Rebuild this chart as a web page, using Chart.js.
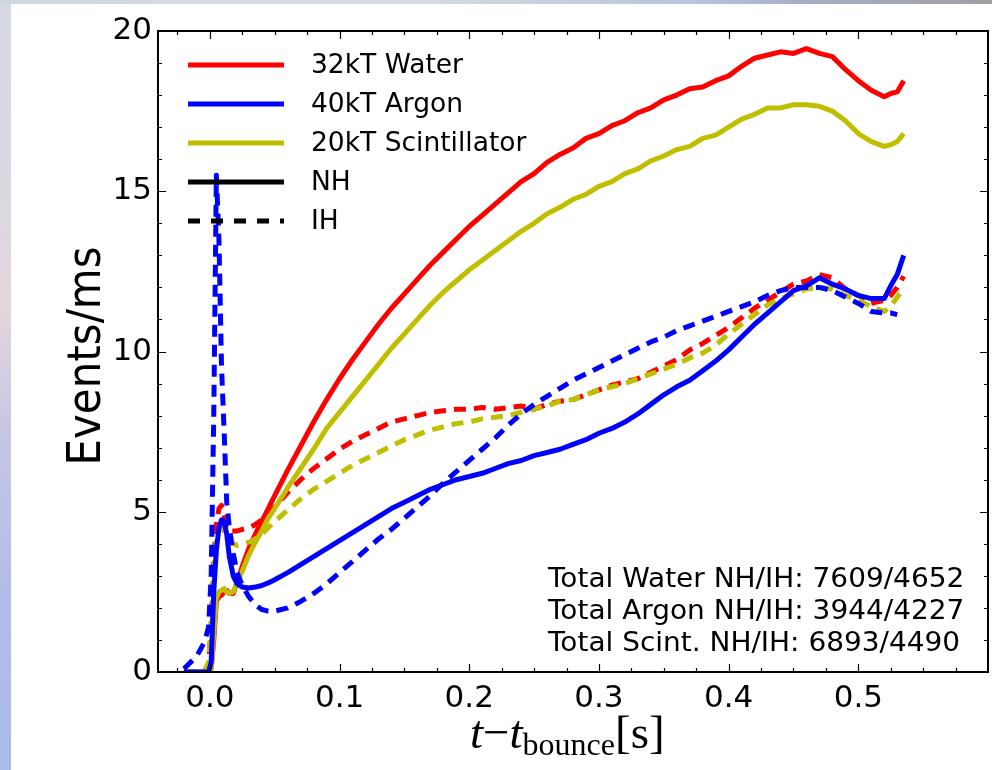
<!DOCTYPE html>
<html>
<head>
<meta charset="utf-8">
<script src="https://cdn.jsdelivr.net/npm/chart.js@4.4.0/dist/chart.umd.min.js"></script>
<style>
  html, body { margin: 0; padding: 0; background: #fff; }
  body { width: 992px; height: 770px; position: relative; overflow: hidden; }
  .edge-left {
    position: absolute; left: 0; top: 0; width: 11px; height: 770px;
    background: linear-gradient(180deg, #d4d9e4 0%, #dcd8e2 25%, #e4d6de 40%, #c8c8e4 55%, #b4bce8 75%, #aabbe8 100%);
  }
  .edge-top {
    position: absolute; left: 0; top: 0; width: 992px; height: 4px;
    background: linear-gradient(90deg, #d0d6e2 0%, #d8dce4 40%, #b8c4dc 70%, #a8b0c8 80%, #a0a0a4 100%);
  }
  #wrap { position: absolute; left: 0; top: 0; width: 992px; height: 770px; }
</style>
</head>
<body>
<div class="edge-left"></div>
<div class="edge-top"></div>
<div id="wrap"><canvas id="myChart" width="992" height="770"></canvas></div>
<script>
// time after bounce, seconds
const timeS = [
  -0.02, -0.01, -0.004, -0.001, 0.001, 0.003, 0.005, 0.007, 0.009, 0.011,
  0.013, 0.015, 0.018, 0.021, 0.025, 0.03, 0.035, 0.04, 0.045, 0.05, 0.06,
  0.07, 0.08, 0.09, 0.10,
  0.11, 0.12, 0.13, 0.14, 0.15,
  0.16, 0.17, 0.18, 0.19, 0.20,
  0.21, 0.22, 0.23, 0.24, 0.25,
  0.26, 0.27, 0.28, 0.29, 0.30,
  0.31, 0.32, 0.33, 0.34, 0.35,
  0.36, 0.37, 0.38, 0.39, 0.40,
  0.41, 0.42, 0.43, 0.44, 0.45,
  0.46, 0.47, 0.48, 0.49, 0.50,
  0.51, 0.52,
  0.525, 0.53, 0.535
]

// events / ms
const waterNH = [
  0, 0, 0, 0, 0.1, 1.0, 2.2, 2.35, 2.4, 2.5,
  2.55, 2.45, 2.45, 2.8, 3.3, 3.85, 4.3, 4.7, 5.1, 5.5, 6.3,
  7.05, 7.8, 8.5, 9.15,
  9.75, 10.3, 10.85, 11.35, 11.8,
  12.25, 12.7, 13.1, 13.5, 13.9,
  14.25, 14.6, 14.95, 15.3, 15.55,
  15.9, 16.15, 16.35, 16.65, 16.8,
  17.05, 17.2, 17.45, 17.6, 17.85,
  18.0, 18.2, 18.25, 18.45, 18.6,
  18.9, 19.15, 19.25, 19.35, 19.3,
  19.45, 19.3, 19.2, 18.8, 18.45,
  18.15, 17.95,
  18.05, 18.1, 18.45
]
const waterIH = [
  0, 0, 0, 0.2, 1.5, 3.5, 4.6, 5.1, 5.2, 4.9,
  4.5, 4.4, 4.4, 4.4, 4.45, 4.5, 4.6, 4.75, 4.95, 5.15, 5.6,
  6.0, 6.35, 6.65, 6.95,
  7.2, 7.4, 7.6, 7.8, 7.9,
  8.0, 8.1, 8.15, 8.2, 8.2,
  8.25, 8.2, 8.25, 8.3, 8.2,
  8.35, 8.45, 8.5, 8.65, 8.8,
  8.95, 9.05, 9.15, 9.35, 9.55,
  9.75, 10.05, 10.25, 10.5, 10.75,
  11.05, 11.35, 11.6, 11.85, 12.1,
  12.2, 12.4, 12.3, 11.95, 11.75,
  11.5, 11.6,
  11.75, 12.0, 12.35
]
const argonNH = [
  0, 0, 0, 0, 0.3, 2.5, 3.8, 4.5, 4.75, 4.7,
  4.3, 3.6, 3.0, 2.75, 2.65, 2.62, 2.65, 2.7, 2.78, 2.88, 3.1,
  3.35, 3.6, 3.85, 4.1,
  4.35, 4.6, 4.85, 5.1, 5.3,
  5.5, 5.7, 5.85, 6.0, 6.1,
  6.2, 6.35, 6.5, 6.6, 6.75,
  6.85, 6.95, 7.1, 7.25, 7.45,
  7.6, 7.8, 8.05, 8.35, 8.65,
  8.9, 9.1, 9.4, 9.7, 10.05,
  10.45, 10.85, 11.2, 11.55, 11.9,
  12.05, 12.3, 12.1, 11.95, 11.75,
  11.65, 11.65,
  12.05, 12.4, 13.0
]
const argonIH = [
  0.1, 0.5, 0.95, 1.4, 3.0, 8.0, 15.5, 13.5, 9.5, 7.5,
  5.3, 4.5, 3.7, 3.1, 2.7, 2.35, 2.1, 1.95, 1.9, 1.9, 2.0,
  2.2, 2.45, 2.75, 3.1,
  3.45, 3.8, 4.15, 4.45, 4.8,
  5.15, 5.5, 5.9, 6.25, 6.6,
  6.95, 7.3, 7.7, 8.05, 8.35,
  8.6, 8.85, 9.1, 9.3, 9.5,
  9.7, 9.9, 10.1, 10.3, 10.45,
  10.65, 10.8, 10.95, 11.1, 11.25,
  11.4, 11.55, 11.75, 11.9, 12.0,
  12.0, 12.0, 11.9, 11.7, 11.5,
  11.25, 11.2,
  11.2, 11.15, null
]
const scintNH = [
  0, 0, 0, 0, 0.1, 1.2, 2.3, 2.5, 2.55, 2.6,
  2.5, 2.45, 2.5, 2.8, 3.15, 3.65, 4.05, 4.4, 4.8, 5.1, 5.75,
  6.35, 6.95, 7.6, 8.1,
  8.6, 9.1, 9.6, 10.1, 10.55,
  11.0, 11.45, 11.85, 12.2, 12.55,
  12.85, 13.15, 13.45, 13.75, 14.0,
  14.3, 14.5, 14.75, 14.9, 15.15,
  15.3, 15.55, 15.7, 15.95, 16.1,
  16.3, 16.4, 16.65, 16.75, 17.0,
  17.25, 17.4, 17.6, 17.6, 17.7,
  17.7, 17.65, 17.5, 17.2, 16.8,
  16.55, 16.4,
  16.45, 16.55, 16.8
]
const scintIH = [
  0, 0, 0.05, 0.3, 1.5, 3.2, 4.1, 4.45, 4.5, 4.4,
  4.25, 4.1, 4.0, 3.95, 4.0, 4.05, 4.15, 4.3, 4.5, 4.7, 5.05,
  5.4, 5.7, 5.95, 6.2,
  6.45, 6.65, 6.85, 7.05, 7.25,
  7.4, 7.55, 7.65, 7.75, 7.8,
  7.9, 7.95, 8.0, 8.1, 8.2,
  8.3, 8.45, 8.5, 8.65, 8.8,
  8.9, 9.0, 9.15, 9.3, 9.45,
  9.6, 9.8, 9.95, 10.2, 10.55,
  10.85, 11.15, 11.45, 11.65, 11.8,
  11.95, 12.0, 11.95, 11.75, 11.6,
  11.4, 11.25,
  11.4, 11.7, 11.95
]

const xTicks = [0.0, 0.1, 0.2, 0.3, 0.4, 0.5]
const yTicks = [0, 5, 10, 15, 20]
const legendLabels = ['32kT Water', '40kT Argon', '20kT Scintillator', 'NH', 'IH']
const legendColors = ['#ff0000', '#0000ff', '#bfbf00', '#000000', '#000000']
const totalsText = [
  'Total Water NH/IH: 7609/4652',
  'Total Argon NH/IH: 3944/4227',
  'Total Scint. NH/IH: 6893/4490'
]

const RED = '#ff0000', BLUE = '#0000ff', YEL = '#bfbf00'
const DASH = [12, 8]

const toPoints = (arr) => timeS.map((t, i) => ({ x: t, y: arr[i] }))

const lineSet = (label, arr, color, dashed, order) => ({
  label,
  data: toPoints(arr),
  borderColor: color,
  borderWidth: 5,
  borderDash: dashed ? DASH : [],
  borderCapStyle: 'butt',
  borderJoinStyle: 'round',
  pointRadius: 0,
  tension: 0,
  spanGaps: false,
  order,
})

// matplotlib-like frame: inward ticks, spines, legend, texts
const framePlugin = {
  id: 'frame',
  afterDraw(chart) {
    const { ctx, chartArea: a, scales } = chart
    const xs = scales.x, ys = scales.y
    ctx.save()
    ctx.strokeStyle = '#000'
    ctx.lineWidth = 1.2
    ctx.beginPath()
    for (let k = -1; k <= 23; k++) {
      const v = k * 0.025
      const px = Math.round(xs.getPixelForValue(v)) + 0.5
      const len = k % 4 === 0 ? 8 : 4
      ctx.moveTo(px, a.bottom); ctx.lineTo(px, a.bottom - len)
      ctx.moveTo(px, a.top); ctx.lineTo(px, a.top + len)
    }
    for (let v = 1; v < 20; v++) {
      const py = Math.round(ys.getPixelForValue(v)) + 0.5
      const len = v % 5 === 0 ? 8 : 4
      ctx.moveTo(a.left, py); ctx.lineTo(a.left + len, py)
      ctx.moveTo(a.right, py); ctx.lineTo(a.right - len, py)
    }
    ctx.stroke()

    ctx.lineWidth = 2
    ctx.strokeRect(a.left, a.top, a.right - a.left, a.bottom - a.top)

    // legend
    ctx.font = '26.5px "DejaVu Sans"'
    ctx.textBaseline = 'middle'
    ctx.textAlign = 'left'
    legendLabels.forEach((lab, i) => {
      const y = a.top + 34 + i * 39
      ctx.strokeStyle = legendColors[i]
      ctx.lineWidth = 5
      ctx.setLineDash(i === 4 ? [12, 11] : [])
      ctx.beginPath()
      ctx.moveTo(a.left + 30, y)
      ctx.lineTo(a.left + 126, y)
      ctx.stroke()
      ctx.setLineDash([])
      ctx.fillStyle = '#000'
      ctx.fillText(lab, a.left + 153, y + 1)
    })

    // totals (slightly wide, like the reference)
    ctx.textBaseline = 'alphabetic'
    totalsText.forEach((s, i) => {
      ctx.save()
      ctx.translate(548, 587 + i * 32)
      ctx.scale(1.075, 1)
      ctx.font = '26px "DejaVu Sans"'
      ctx.fillText(s, 0, 0)
      ctx.restore()
    })

    // y title
    ctx.save()
    ctx.translate(100, 356)
    ctx.rotate(-Math.PI / 2)
    ctx.scale(1, 1.08)
    ctx.textAlign = 'center'
    ctx.font = '42px "DejaVu Sans"'
    ctx.fillText('Events/ms', 0, 0)
    ctx.restore()

    // x title: t - t_bounce [s]
    const base = 748
    const parts = [
      { s: 't', f: 'italic 47px "Liberation Serif"', dy: 0 },
      { s: '\u2212', f: '47px "Liberation Serif"', dy: 0 },
      { s: 't', f: 'italic 47px "Liberation Serif"', dy: 0 },
      { s: 'bounce', f: '32px "Liberation Serif"', dy: 7 },
      { s: '[s]', f: '47px "Liberation Serif"', dy: 0 },
    ]
    parts.forEach(p => { ctx.font = p.f; p.w = ctx.measureText(p.s).width })
    let x = 470
    ctx.textAlign = 'left'
    parts.forEach(p => {
      ctx.font = p.f
      ctx.fillText(p.s, x, base + p.dy)
      x += p.w
    })
    ctx.restore()
  }
}

const ctx = document.getElementById('myChart').getContext('2d')
const myChart = new Chart(ctx, {
  type: 'line',
  data: {
    datasets: [
      lineSet('32kT Water NH', waterNH, RED, false, 6),
      lineSet('32kT Water IH', waterIH, RED, true, 5),
      lineSet('20kT Scintillator NH', scintNH, YEL, false, 4),
      lineSet('20kT Scintillator IH', scintIH, YEL, true, 3),
      lineSet('40kT Argon IH', argonIH, BLUE, true, 2),
      lineSet('40kT Argon NH', argonNH, BLUE, false, 1),
    ]
  },
  options: {
    responsive: false,
    devicePixelRatio: 1,
    animation: false,
    layout: { padding: { left: 0, top: 31, right: 4, bottom: 0 } },
    plugins: {
      legend: { display: false },
      tooltip: { enabled: false },
    },
    scales: {
      x: {
        type: 'linear',
        min: -0.04,
        max: 0.6,
        afterBuildTicks: (s) => { s.ticks = xTicks.map(v => ({ value: v })) },
        afterFit: (s) => { s.height = 98 },
        grid: { display: false, drawTicks: false },
        border: { display: false },
        ticks: {
          color: '#000',
          font: { family: 'DejaVu Sans', size: 31 },
          padding: 8,
          maxRotation: 0,
          autoSkip: false,
          callback: (v) => Number(v).toFixed(1),
        },
      },
      y: {
        min: 0,
        max: 20,
        afterBuildTicks: (s) => { s.ticks = yTicks.map(v => ({ value: v })) },
        afterFit: (s) => { s.width = 158 },
        grid: { display: false, drawTicks: false },
        border: { display: false },
        ticks: {
          color: '#000',
          font: { family: 'DejaVu Sans', size: 31 },
          padding: 6,
          callback: (v) => String(v),
        },
      },
    },
  },
  plugins: [framePlugin],
})
</script>
</body>
</html>
